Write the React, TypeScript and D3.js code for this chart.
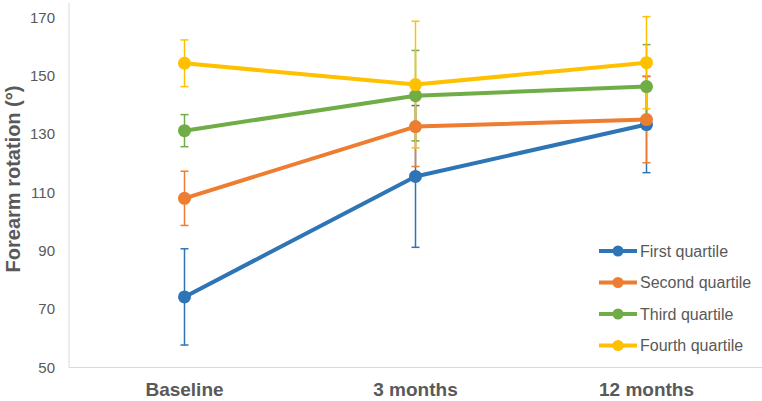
import React from "react";
import * as d3 from "d3";

const categories = ["Baseline", "3 months", "12 months"];
const seriesNames = ["First quartile", "Second quartile", "Third quartile", "Fourth quartile"];
const firstMean = [74.2, 115.5, 133.3];
const firstSD = [16.5, 24.3, 16.5];
const secondMean = [108.0, 132.6, 135.0];
const secondSD = [9.3, 13.7, 14.8];
const thirdMean = [131.2, 143.2, 146.3];
const thirdSD = [5.5, 15.5, 14.4];
const fourthMean = [154.3, 147.0, 154.5];
const fourthSD = [8.0, 21.7, 15.8];
const yTicks = [50, 70, 90, 110, 130, 150, 170];
const colors = ["#2E75B6", "#ED7D31", "#70AD47", "#FFC000"];

const series = [
  { name: seriesNames[0], mean: firstMean, sd: firstSD, color: colors[0] },
  { name: seriesNames[1], mean: secondMean, sd: secondSD, color: colors[1] },
  { name: seriesNames[2], mean: thirdMean, sd: thirdSD, color: colors[2] },
  { name: seriesNames[3], mean: fourthMean, sd: fourthSD, color: colors[3] },
];

export default function App() {
  const W = 762, H = 401;
  const left = 69, right = 762, top = 2.9, bottom = 367.5;
  const x = d3.scaleBand().domain(categories).range([left, right]);
  const y = d3.scaleLinear().domain([50, 175]).range([bottom, top]);
  const cx = (c: string) => (x(c) as number) + x.bandwidth() / 2;
  const line = d3.line<number>().x((_, i) => cx(categories[i])).y((v) => y(v));
  const font = "'Liberation Sans', Arial, sans-serif";
  const textColor = "#595959";
  const axisColor = "#D9D9D9";

  return (
    <svg width={W} height={H} style={{ position: "absolute", left: 0, top: 0 }} fontFamily={font}>
      <rect width={W} height={H} fill="#fff" />
      {/* axes */}
      <line x1={left} x2={left} y1={top} y2={bottom} stroke={axisColor} strokeWidth={1} />
      <line x1={left} x2={right} y1={bottom} y2={bottom} stroke={axisColor} strokeWidth={1} />
      {yTicks.map((t) => (
        <text key={t} x={55} y={y(t)} dy="0.35em" textAnchor="end" fontSize={15} fill={textColor}>
          {t}
        </text>
      ))}
      {categories.map((c) => (
        <text key={c} x={cx(c)} y={396} textAnchor="middle" fontSize={19} fontWeight="bold" fill={textColor}>
          {c}
        </text>
      ))}
      <text
        transform="translate(20,179) rotate(-90)"
        textAnchor="middle"
        fontSize={20}
        fontWeight="bold"
        fill={textColor}
      >
        Forearm rotation (°)
      </text>
      {/* error bars */}
      {series.map((s) =>
        s.mean.map((m, i) => {
          const px = cx(categories[i]);
          const y1 = y(m + s.sd[i]);
          const y2 = y(m - s.sd[i]);
          return (
            <g key={s.name + i} stroke={s.color} strokeWidth={1.5}>
              <line x1={px} x2={px} y1={y1} y2={y2} />
              <line x1={px - 4} x2={px + 4} y1={y1} y2={y1} />
              <line x1={px - 4} x2={px + 4} y1={y2} y2={y2} />
            </g>
          );
        })
      )}
      {/* lines and markers */}
      {series.map((s) => (
        <g key={s.name}>
          <path d={line(s.mean) as string} fill="none" stroke={s.color} strokeWidth={4} strokeLinejoin="round" />
          {s.mean.map((m, i) => (
            <circle key={i} cx={cx(categories[i])} cy={y(m)} r={6.5} fill={s.color} />
          ))}
        </g>
      ))}
      {/* legend */}
      {series.map((s, i) => {
        const ly = 251 + i * 31.5;
        return (
          <g key={s.name}>
            <line x1={599} x2={637} y1={ly} y2={ly} stroke={s.color} strokeWidth={4} />
            <circle cx={618} cy={ly} r={5.5} fill={s.color} />
            <text x={640} y={ly} dy="0.35em" fontSize={16} fill={textColor}>
              {s.name}
            </text>
          </g>
        );
      })}
    </svg>
  );
}
